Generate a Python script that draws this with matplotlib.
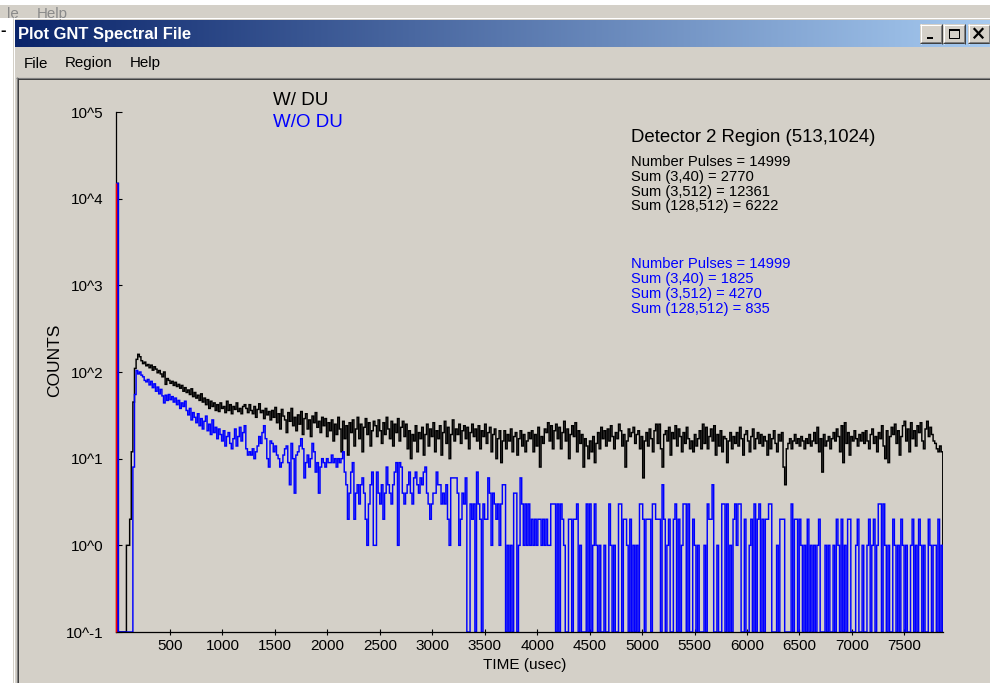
import numpy as np
import matplotlib
matplotlib.use("Agg")
import matplotlib.pyplot as plt
from matplotlib.patches import Rectangle

plt.rcParams["font.family"] = ["Liberation Sans", "DejaVu Sans"]

FIG_W, FIG_H = 990, 683
FACE = "#D4D0C8"

window_title = "Plot GNT Spectral File"
menu_items = ["File", "Region", "Help"]
plot_title = "Detector 2 Region (513,1024)"
series_names = ["W/ DU", "W/O DU"]
series_colors = ["#000000", "#0000FF"]
trigger_color = "#FF0000"

stats_with_du = ["Number Pulses = 14999", "Sum (3,40) = 2770",
                 "Sum (3,512) = 12361", "Sum (128,512) = 6222"]
stats_without_du = ["Number Pulses = 14999", "Sum (3,40) = 1825",
                    "Sum (3,512) = 4270", "Sum (128,512) = 835"]

x_label = "TIME (usec)"
y_label = "COUNTS"
x_ticks = [500, 1000, 1500, 2000, 2500, 3000, 3500, 4000,
           4500, 5000, 5500, 6000, 6500, 7000, 7500]
y_ticks = [1e-1, 1e0, 1e1, 1e2, 1e3, 1e4, 1e5]
y_tick_labels = ["10^-1", "10^0", "10^1", "10^2", "10^3", "10^4", "10^5"]

bin_width_us = 15.38
trigger_pulses = 14999

# counts per channel, detector 2, with depleted uranium
counts_with_du = [
    trigger_pulses, 0, 0, 0, 0, 0, 1, 1, 2, 12, 45, 110, 140, 160, 150, 135,
    125, 130, 118, 122, 112, 120, 105, 115, 108, 98, 104, 95, 88, 100, 72, 84,
    80, 74, 78, 70, 76, 68, 72, 65, 70, 60, 66, 58, 62, 55, 64, 52,
    58, 50, 54, 47, 56, 45, 50, 42, 48, 38, 46, 40, 44, 36, 42, 35,
    44, 38, 40, 34, 46, 36, 42, 33, 40, 37, 44, 35, 38, 33, 40, 42,
    38, 34, 42, 36, 33, 40, 30, 37, 43, 34, 36, 29, 38, 32, 35, 28,
    36, 30, 39, 26, 33, 22, 37, 31, 28, 20, 34, 27, 38, 24, 30, 21,
    32, 25, 35, 19, 29, 33, 22, 28, 18, 31, 26, 34, 23, 27, 20, 30,
    24, 29, 18, 26, 21, 28, 16, 25, 19, 30, 22, 12, 27, 17, 24, 11,
    26, 20, 28, 14, 22, 30, 17, 25, 12, 23, 29, 19, 26, 14, 21, 27,
    24, 18, 28, 21, 15, 26, 19, 30, 22, 17, 27, 14, 25, 20, 29, 16,
    23, 27, 18, 25, 13, 21, 10, 19, 16, 24, 12, 20, 17, 23, 11, 19,
    25, 14, 22, 18, 26, 12, 21, 17, 24, 11, 20, 27, 15, 23, 10, 19,
    28, 16, 22, 19, 25, 15, 21, 24, 17, 23, 13, 20, 25, 18, 22, 16,
    24, 13, 21, 18, 25, 15, 20, 23, 12, 19, 22, 10, 17, 21, 9, 16,
    21, 13, 19, 16, 22, 12, 18, 20, 11, 17, 21, 14, 19, 12, 16, 20,
    17, 21, 12, 19, 14, 23, 8, 18, 15, 22, 20, 26, 16, 24, 13, 21,
    25, 17, 23, 13, 20, 27, 16, 22, 10, 19, 24, 18, 26, 12, 21, 15,
    19, 8, 17, 14, 10, 16, 12, 18, 9, 15, 20, 13, 23, 17, 21, 14,
    22, 16, 24, 18, 13, 20, 17, 25, 21, 14, 19, 8, 16, 22, 18, 20,
    23, 15, 19, 21, 13, 18, 6, 16, 20, 14, 22, 17, 12, 21, 25, 15,
    25, 13, 8, 19, 21, 16, 23, 11, 20, 17, 24, 14, 22, 18, 12, 20,
    15, 23, 17, 13, 16, 12, 19, 14, 17, 21, 13, 25, 15, 23, 13, 18,
    22, 16, 24, 11, 19, 14, 21, 12, 18, 17, 9, 16, 20, 13, 18, 15,
    20, 14, 23, 17, 11, 19, 21, 16, 12, 18, 22, 13, 17, 20, 15, 19,
    14, 18, 16, 11, 19, 13, 17, 21, 15, 12, 19, 16, 20, 8, 5, 13,
    15, 17, 13, 16, 19, 15, 17, 14, 18, 16, 13, 17, 15, 19, 14, 16,
    20, 15, 23, 12, 17, 7, 19, 14, 16, 18, 13, 17, 20, 16, 22, 18,
    12, 24, 9, 26, 15, 20, 11, 18, 16, 21, 17, 14, 19, 16, 20, 15,
    21, 16, 13, 19, 22, 15, 18, 12, 20, 17, 24, 14, 10, 21, 9, 18,
    23, 19, 25, 15, 21, 11, 18, 24, 27, 16, 22, 12, 26, 17, 21, 14,
    24, 20, 26, 16, 13, 22, 27, 18, 23, 19, 16, 15, 13, 12, 14, 12,
]

# counts per channel, detector 2, without depleted uranium
counts_without_du = [
    trigger_pulses, 0, 0, 0, 0, 0, 0, 0, 0, 0, 8, 55, 104, 95, 100, 92,
    88, 80, 77, 82, 71, 78, 66, 73, 60, 67, 56, 63, 53, 44, 54, 47,
    55, 48, 52, 45, 50, 42, 47, 38, 44, 40, 46, 36, 32, 38, 28, 34,
    30, 26, 33, 24, 29, 22, 27, 31, 21, 25, 19, 28, 20, 23, 17, 22,
    19, 16, 21, 14, 18, 20, 15, 13, 17, 22, 14, 18, 23, 16, 20, 24,
    13, 11, 12, 11, 13, 10, 12, 14, 18, 15, 20, 24, 17, 10, 8, 16,
    15, 12, 14, 11, 10, 8, 9, 11, 13, 14, 9, 5, 15, 10, 4, 11,
    12, 14, 17, 13, 6, 9, 11, 8, 10, 15, 12, 7, 9, 4, 8, 10,
    9, 8, 10, 9, 9, 11, 9, 10, 8, 10, 9, 10, 12, 7, 5, 2,
    4, 7, 9, 2, 4, 5, 3, 5, 6, 4, 2, 1, 3, 5, 7, 1,
    1, 7, 4, 3, 5, 2, 4, 8, 5, 4, 3, 5, 7, 9, 1, 9,
    8, 4, 3, 4, 5, 7, 4, 3, 6, 7, 5, 4, 6, 5, 7, 8,
    4, 3, 2, 3, 4, 4, 7, 5, 5, 3, 4, 3, 5, 2, 1, 6,
    6, 6, 6, 4, 1, 2, 4, 3, 6, 0, 0, 3, 2, 3, 0, 7,
    3, 2, 0, 3, 2, 2, 6, 4, 1, 4, 3, 2, 3, 1, 3, 5,
    5, 0, 1, 0, 1, 0, 4, 4, 0, 1, 6, 3, 1, 3, 1, 3,
    1, 2, 1, 2, 1, 2, 2, 1, 2, 1, 2, 1, 1, 3, 3, 3,
    0, 3, 0, 3, 2, 1, 0, 0, 2, 2, 0, 2, 2, 3, 0, 1,
    0, 0, 0, 3, 0, 3, 0, 1, 3, 1, 0, 1, 0, 0, 1, 0,
    0, 3, 1, 0, 1, 0, 0, 3, 3, 0, 2, 2, 1, 0, 2, 0,
    1, 0, 1, 0, 3, 3, 2, 0, 2, 2, 2, 0, 3, 3, 2, 2,
    2, 0, 5, 2, 0, 1, 2, 0, 0, 2, 3, 0, 2, 0, 1, 3,
    3, 0, 3, 0, 0, 2, 1, 0, 1, 0, 0, 0, 1, 0, 3, 2,
    2, 5, 0, 0, 1, 0, 0, 3, 3, 0, 3, 0, 1, 0, 2, 3,
    1, 3, 3, 0, 0, 2, 0, 0, 1, 2, 0, 3, 0, 2, 3, 0,
    2, 0, 2, 2, 3, 3, 0, 0, 0, 1, 0, 2, 2, 2, 0, 0,
    0, 0, 3, 0, 2, 2, 0, 2, 1, 0, 1, 0, 2, 0, 1, 0,
    1, 0, 1, 2, 0, 0, 0, 1, 0, 1, 0, 0, 1, 0, 2, 1,
    0, 2, 0, 1, 0, 2, 2, 0, 0, 0, 1, 2, 0, 0, 1, 0,
    0, 1, 2, 0, 1, 2, 0, 1, 3, 3, 0, 3, 1, 0, 1, 0,
    0, 2, 1, 0, 1, 0, 2, 1, 0, 1, 0, 0, 1, 2, 0, 1,
    0, 2, 1, 0, 1, 0, 0, 2, 1, 0, 1, 1, 0, 2, 0, 1,
]

# ---------------------------------------------------------------- figure
fig = plt.figure(figsize=(FIG_W / 100, FIG_H / 100), dpi=100)
fig.patch.set_facecolor("white")

# window chrome drawn in pixel coordinates
bg = fig.add_axes([0, 0, 1, 1])
bg.set_axis_off()

def rect(x0, y0, x1, y1, color, z=1):
    bg.add_patch(Rectangle((x0, y0), x1 - x0, y1 - y0, facecolor=color,
                           edgecolor="none", zorder=z))

def hline(y, x0, x1, color, lw=1.0, z=3):
    bg.plot([x0, x1], [y, y], color=color, lw=lw * 0.72, zorder=z,
            solid_capstyle="butt")

def vline(x, y0, y1, color, lw=1.0, z=3):
    bg.plot([x, x], [y0, y1], color=color, lw=lw * 0.72, zorder=z,
            solid_capstyle="butt")

# strip of the parent window behind
rect(0, 5, FIG_W, 18, FACE)
t = bg.text(7, 18, "le", fontsize=10.9, color="#8A8A8A", va="baseline",
            ha="left", zorder=2)
t2 = bg.text(37, 18, "Help", fontsize=10.9, color="#8A8A8A", va="baseline",
             ha="left", zorder=2)
clip = Rectangle((0, 5), FIG_W, 12, transform=bg.transData)
t.set_clip_path(clip)
t2.set_clip_path(clip)
bg.text(0, 31, "-", fontsize=12, fontweight="bold", color="black",
        va="center", ha="left", zorder=2)

# window body
rect(13, 17, FIG_W, FIG_H, FACE)
hline(17.5, 13, FIG_W, "#FFFFFF")
vline(13.5, 17, FIG_H, "#FFFFFF")

# title bar with gradient
grad = np.linspace(0, 1, 512)
c0 = np.array([10, 36, 106]) / 255.0
c1 = np.array([166, 202, 240]) / 255.0
img = (c0[None, None, :] * (1 - grad)[None, :, None]
       + c1[None, None, :] * grad[None, :, None])
bg.imshow(img, extent=[15, FIG_W, 47, 20], aspect="auto",
          interpolation="bilinear", zorder=2)
bg.text(18, 39.5, window_title, fontsize=11.9, fontweight="bold",
        color="white", va="baseline", ha="left", zorder=4)

# caption buttons
for bx0, bx1, glyph in [(920, 942, "min"), (943, 965, "max"), (968, 990, "close")]:
    rect(bx0, 24, bx1, 43.5, FACE, z=4)
    hline(24.5, bx0, bx1, "#FFFFFF", z=5)
    vline(bx0 + 0.5, 24, 43.5, "#FFFFFF", z=5)
    hline(43, bx0, bx1, "#404040", z=5)
    vline(bx1 - 0.5, 24, 43.5, "#404040", z=5)
    hline(42, bx0 + 1, bx1 - 1, "#808080", z=5)
    vline(bx1 - 1.5, 25, 42.5, "#808080", z=5)
    cx = (bx0 + bx1) / 2
    if glyph == "min":
        hline(37.5, cx - 4, cx + 2, "black", lw=2, z=6)
    elif glyph == "max":
        bg.add_patch(Rectangle((cx - 5, 28.5), 10, 9, facecolor="none",
                               edgecolor="black", lw=0.72, zorder=6))
        hline(29.5, cx - 5, cx + 5, "black", lw=2, z=6)
    else:
        bg.plot([cx - 4.5, cx + 3.5], [29, 37.5], color="black", lw=1.6, zorder=6)
        bg.plot([cx - 4.5, cx + 3.5], [37.5, 29], color="black", lw=1.6, zorder=6)

# menu bar
for mx, label in zip([24, 65, 130], menu_items):
    bg.text(mx, 67.5, label, fontsize=10.9, color="black",
            va="baseline", ha="left", zorder=4)

# sunken plot panel border
hline(77.5, 16, FIG_W, "#808080", lw=1.2)
hline(78.5, 17, FIG_W, "#404040", lw=1.0)
vline(16.5, 77, FIG_H, "#808080", lw=1.2)
vline(17.5, 78, FIG_H, "#404040", lw=1.0)

bg.set_xlim(0, FIG_W)
bg.set_ylim(FIG_H, 0)

# legend-like series names
bg.text(273, 105, series_names[0], fontsize=13.5, color=series_colors[0],
        va="baseline", ha="left", zorder=4)
bg.text(273, 127, series_names[1], fontsize=13.5, color=series_colors[1],
        va="baseline", ha="left", zorder=4)

# region heading and statistics
bg.text(631, 141.5, plot_title, fontsize=13.4, color="black",
        va="baseline", ha="left", zorder=4)
for k, line in enumerate(stats_with_du):
    bg.text(631, 166 + 14.8 * k, line, fontsize=10.6, color=series_colors[0],
            va="baseline", ha="left", zorder=4)
for k, line in enumerate(stats_without_du):
    bg.text(631, 268.5 + 14.8 * k, line, fontsize=10.6, color=series_colors[1],
            va="baseline", ha="left", zorder=4)

# axis titles
bg.text(55, 360, y_label, fontsize=12.5, rotation=90, color="black",
        va="center", ha="center", zorder=4)
bg.text(524.5, 665, x_label, fontsize=11, color="black",
        va="center", ha="center", zorder=4)

# ---------------------------------------------------------------- spectra
with_du = np.asarray(counts_with_du, dtype=float)
without_du = np.asarray(counts_without_du, dtype=float)
n_bins = len(with_du)
edges = (np.arange(n_bins + 1) - 0.5) * bin_width_us
y_floor = y_ticks[0]
x_lo = edges[0] - 9.0          # small gap so the trigger edge sits on the axis
x_hi = edges[-1]

px_per_us = 0.1049
ax_left_px = 117.55 + x_lo * px_per_us
ax_width_px = (x_hi - x_lo) * px_per_us
ax = fig.add_axes([ax_left_px / FIG_W, 1 - 632 / FIG_H,
                   ax_width_px / FIG_W, (632 - 112) / FIG_H])
ax.set_facecolor("none")
ax.set_zorder(5)

ax.set_yscale("log")
ax.set_ylim(y_floor, y_ticks[-1])
ax.set_xlim(x_lo, x_hi)

for counts, color in [(with_du, series_colors[0]), (without_du, series_colors[1])]:
    shown = np.where(counts > 0, counts, y_floor)
    ax.stairs(shown, edges, baseline=y_floor, color=color, lw=1.05, zorder=2)

# trigger channel marker along the axis
ax.vlines(x_lo, y_floor, counts_with_du[0], color=trigger_color,
          lw=1.05, zorder=4, clip_on=False)

ax.spines["top"].set_visible(False)
ax.spines["right"].set_visible(False)
ax.spines["left"].set_zorder(1)
ax.spines["bottom"].set_zorder(3)
for s in ("left", "bottom"):
    ax.spines[s].set_linewidth(0.9)
    ax.spines[s].set_color("black")

ax.set_xticks(x_ticks)
ax.set_xticklabels([str(v) for v in x_ticks])
ax.set_yticks(y_ticks)
ax.set_yticklabels(y_tick_labels)
ax.yaxis.set_minor_locator(matplotlib.ticker.NullLocator())
ax.tick_params(axis="x", direction="inout", length=5, width=0.8, pad=2.5,
               labelsize=11, colors="black")
ax.tick_params(axis="y", direction="in", length=4.3, width=0.8, pad=9,
               labelsize=11, colors="black")

fig.savefig("out.png", dpi=100, facecolor=fig.get_facecolor())
